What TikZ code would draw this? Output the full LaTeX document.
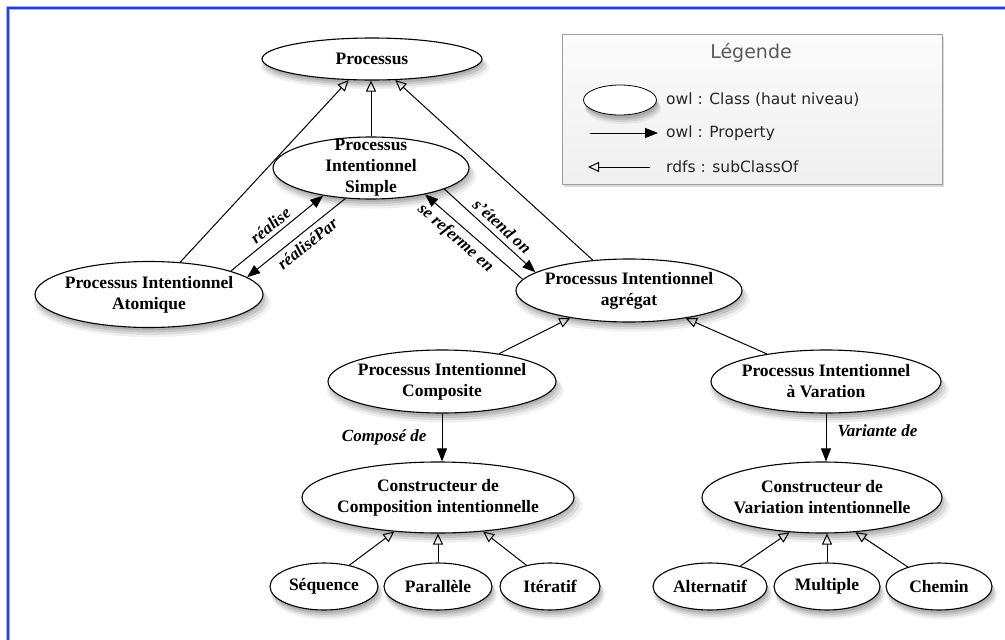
\documentclass[tikz,border=0pt]{standalone}
\usepackage{fontspec}
\setmainfont{Liberation Serif}
\newfontfamily\legfont{DejaVu Sans}
\usetikzlibrary{shapes.geometric,arrows.meta,shadows}
\definecolor{frameblue}{RGB}{30,60,255}
\tikzset{
  shdw/.style={
    drop shadow={shadow xshift=3pt, shadow yshift=-8pt, opacity=0.12, shadow scale=1.04},
    drop shadow={shadow xshift=2.5pt, shadow yshift=-6.5pt, opacity=0.18, shadow scale=1.02},
    drop shadow={shadow xshift=2pt, shadow yshift=-5pt, opacity=0.25},
    drop shadow={shadow xshift=1.5pt, shadow yshift=-3.5pt, opacity=0.3, shadow scale=0.98}},
  cls/.style={draw, ellipse, line width=1.1pt, fill=white, inner sep=0pt, shdw},
  txt/.style={align=center, inner sep=0pt, font=\fontsize{17.5}{21}\selectfont\bfseries},
  sub/.style={line width=1pt, -{Triangle[open, length=11pt, width=10pt]}},
  prop/.style={line width=1pt, -{Triangle[length=13pt, width=10pt]}},
  lbl/.style={font=\fontsize{17}{21}\selectfont\bfseries\itshape, inner sep=1pt},
  legtxt/.style={font=\legfont\fontsize{15.5}{18}\selectfont, text=black!85, inner sep=2pt, anchor=west},
}
\begin{document}
\begin{tikzpicture}[x=1pt,y=-1pt]
\useasboundingbox (0,0) rectangle (1005,640);
% frame
\draw[frameblue!40, line width=4pt] (8,640) -- (8,8) -- (1005,8);
\draw[frameblue, line width=2pt] (8,640) -- (8,8) -- (1005,8);

% legend
\node[draw=gray!75, line width=0.8pt, top color=gray!3, bottom color=gray!12,
      minimum width=380pt, minimum height=150pt, anchor=north west, inner sep=0pt,
      drop shadow={shadow xshift=2pt, shadow yshift=-3pt, opacity=0.3}] (leg) at (562,34) {};
\node[font=\legfont\fontsize{19}{22}\selectfont, text=black!65] (legt) at (751,53) {Légende};
\node[draw, ellipse, line width=0.8pt, fill=white, minimum width=73pt, minimum height=30pt, inner sep=0pt, shdw] (legell) at (620,100) {};
\node[legtxt] (l1) at (664,100) {owl : Class (haut niveau)};
\node[legtxt] (l2) at (664,133) {owl : Property};
\node[legtxt] (l3) at (664,167) {rdfs : subClassOf};
\coordinate (pa) at (590,133);
\coordinate (sc) at (588,167);
\draw[prop, shorten >=6pt] (pa) -- (l2.west);
\draw[sub, shorten <=14pt] (l3.west) -- (sc);

% classes
\node[cls, minimum width=220pt, minimum height=42pt, label={[txt]center:Processus}] (proc) at (372,59) {};
\node[cls, minimum width=196pt, minimum height=62pt, label={[txt]center:{Processus\\Intentionnel\\Simple}}] (simple) at (371,168) {};
\node[cls, minimum width=228pt, minimum height=66pt, label={[txt]center:{Processus Intentionnel\\Atomique}}] (atom) at (149,294.5) {};
\node[cls, minimum width=226pt, minimum height=63pt, label={[txt]center:{Processus Intentionnel\\agrégat}}] (agr) at (629,290.5) {};
\node[cls, minimum width=228pt, minimum height=63pt, label={[txt]center:{Processus Intentionnel\\Composite}}] (comp) at (442,381.5) {};
\node[cls, minimum width=230pt, minimum height=63pt, label={[txt]center:{Processus Intentionnel\\à Varation}}] (var) at (826,381.5) {};
\node[cls, minimum width=272pt, minimum height=71pt, label={[txt]center:{Constructeur de\\Composition intentionnelle}}] (cc) at (438,497.5) {};
\node[cls, minimum width=240pt, minimum height=71pt, label={[txt]center:{Constructeur de\\Variation intentionnelle}}] (cv) at (822,497.5) {};
\node[cls, minimum width=108pt, minimum height=47pt, label={[txt]center:Séquence}] (seq) at (324,586.5) {};
\node[cls, minimum width=108pt, minimum height=47pt, label={[txt]center:Parallèle}] (par) at (438,586.5) {};
\node[cls, minimum width=100pt, minimum height=47pt, label={[txt]center:Itératif}] (ite) at (550,586.5) {};
\node[cls, minimum width=114pt, minimum height=47pt, label={[txt]center:Alternatif}] (alt) at (710,586.5) {};
\node[cls, minimum width=106pt, minimum height=47pt, label={[txt]center:Multiple}] (mul) at (827,586.5) {};
\node[cls, minimum width=106pt, minimum height=47pt, label={[txt]center:Chemin}] (che) at (939,586.5) {};

% subclass links
\draw[sub] (atom.46) -- (proc.222);
\draw[sub] (simple.north) -- (simple.north |- proc.south);
\draw[sub] (agr.140) -- (proc.318);
\draw[sub] (comp.26) -- (agr.205);
\draw[sub] (var.155) -- (agr.334);
\draw[sub] (seq.40) -- (cc.218);
\draw[sub] (par.north) -- (par.north |- cc.south);
\draw[sub] (ite.138) -- (cc.323);
\draw[sub] (alt.34) -- (cv.227);
\draw[sub] (mul.north) -- (mul.north |- cv.south);
\draw[sub] (che.148) -- (cv.314);

% properties
\draw[prop] (atom.16) -- node[lbl, midway, sloped, above=3pt] {réalise} (simple.210);
\draw[prop] (simple.230) -- node[lbl, pos=0.46, sloped, below=4pt] {réaliséPar} (atom.10);
\draw[prop] (agr.174) -- node[lbl, pos=0.6, sloped, below=4pt] {se referme en} (simple.334);
\draw[prop] (simple.344) -- node[lbl, pos=0.55, sloped, above=4pt] {s'étend on} (agr.169);
\draw[prop] (comp.south) -- node[lbl, pos=0.5, left=14pt] {Composé de} (comp.south |- cc.north);
\draw[prop] (var.south) -- node[lbl, pos=0.35, right=10pt] {Variante de} (var.south |- cv.north);
\end{tikzpicture}
\end{document}
